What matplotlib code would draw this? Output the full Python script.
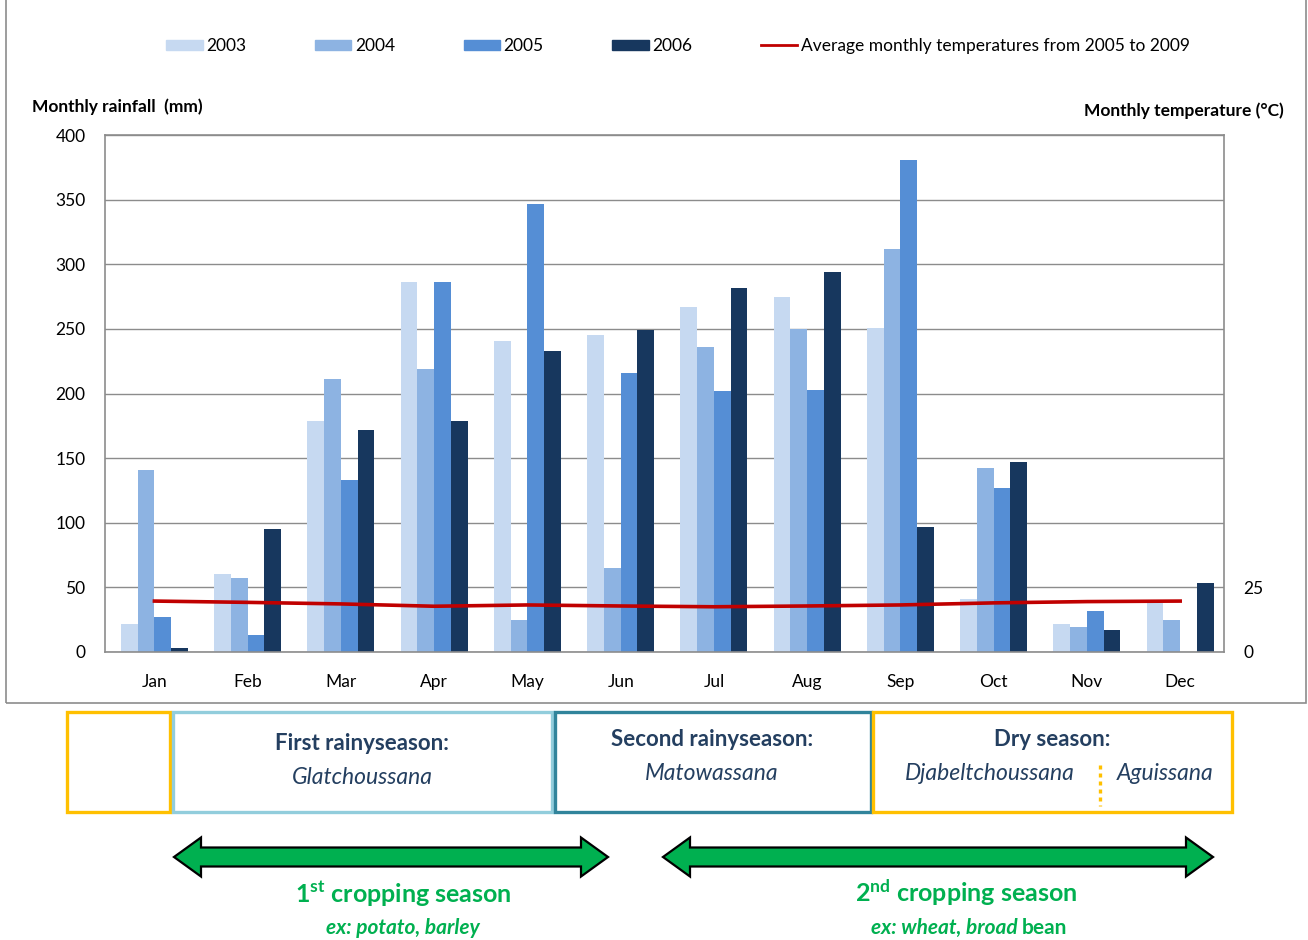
import matplotlib
matplotlib.use("Agg")
import matplotlib.pyplot as plt
import numpy as np
from matplotlib.patches import Rectangle, Polygon
from matplotlib.lines import Line2D

plt.rcParams['font.family'] = ['Lato', 'DejaVu Sans']
plt.rcParams['mathtext.fontset'] = 'custom'
plt.rcParams['mathtext.rm'] = 'Lato'
plt.rcParams['mathtext.bf'] = 'Lato:bold'
plt.rcParams['mathtext.it'] = 'Lato:italic'

months = ["Jan", "Feb", "Mar", "Apr", "May", "Jun", "Jul", "Aug", "Sep", "Oct", "Nov", "Dec"]
years = ["2003", "2004", "2005", "2006"]
rain_2003 = [22, 60, 179, 286, 241, 245, 267, 275, 251, 41, 22, 40]
rain_2004 = [141, 57, 211, 219, 25, 65, 236, 250, 312, 142, 19, 25]
rain_2005 = [27, 13, 133, 286, 347, 216, 202, 203, 381, 127, 32, 0]
rain_2006 = [3, 95, 172, 179, 233, 249, 282, 294, 97, 147, 17, 53]
temp_avg = [19.7, 19.2, 18.6, 17.7, 18.2, 17.8, 17.5, 17.8, 18.2, 19.0, 19.5, 19.7]
bar_colors = ["#C6D9F1", "#8DB3E2", "#558ED5", "#17375E"]

W, H = 1308, 940


def px(x, y):
    return (x / W, 1 - y / H)


fig = plt.figure(figsize=(W / 100, H / 100), dpi=100)

# chart frame
fig.add_artist(Rectangle(px(6, 703), 1300 / W, 710 / H, transform=fig.transFigure,
                         fill=False, edgecolor="#8C8C8C", lw=1.2))

ax = fig.add_axes([105 / W, 1 - 652 / H, 1119 / W, 517 / H])
x = np.arange(len(months))
bw = 0.18
series = [rain_2003, rain_2004, rain_2005, rain_2006]
for i, (vals, c, lab) in enumerate(zip(series, bar_colors, years)):
    ax.bar(x + (i - 1.5) * bw, vals, bw, color=c, label=lab, zorder=2)

ax.set_xlim(-0.53, 11.47)
ax.set_ylim(0, 400)
ax.set_yticks(range(0, 401, 50))
ax.set_xticks(x)
ax.set_xticklabels(months)
ax.grid(axis="y", color="#8C8C8C", lw=1, zorder=0)
ax.set_axisbelow(True)
for s in ax.spines.values():
    s.set_color("#8C8C8C")
    s.set_linewidth(1.2)
ax.tick_params(length=0, labelsize=12.5, colors="black")
ax.tick_params(axis="x", pad=16)
ax.tick_params(axis="y", pad=14)

ax2 = ax.twinx()
ax2.plot(x, temp_avg, color="#C00000", lw=2.6, zorder=3)
ax2.set_ylim(0, 200)
ax2.set_yticks([0, 25])
ax2.tick_params(length=0, labelsize=12.5, pad=14)
for s in ax2.spines.values():
    s.set_visible(False)

fig.text(*px(32, 107), "Monthly rainfall  (mm)", fontsize=12.5, fontweight="bold", va="center")
fig.text(*px(1284, 111), "Monthly temperature (°C)", fontsize=12.5, fontweight="bold",
         va="center", ha="right")

handles = [Rectangle((0, 0), 1, 1, color=c) for c in bar_colors]
handles.append(Line2D([0], [0], color="#C00000", lw=2))
labels = years + ["Average monthly temperatures from 2005 to 2009"]
fig.legend(handles, labels, loc="center", bbox_to_anchor=px(678, 46), ncol=5, frameon=False,
           fontsize=12.5, handlelength=2.1, handleheight=0.55, handletextpad=0.2,
           columnspacing=3.95)

# season boxes below the chart
navy = "#243F60"
gold = "#FFC000"
boxes = [(67, 170, gold), (173, 552, "#92CDDC"), (555, 871, "#31849B"), (873, 1232, gold)]
for x0, x1, c in boxes:
    fig.add_artist(Rectangle(px(x0, 812), (x1 - x0) / W, 100 / H, transform=fig.transFigure,
                             fill=False, edgecolor=c, lw=2.4))
fig.add_artist(Line2D([1100 / W, 1100 / W], [1 - 765 / H, 1 - 806 / H], color=gold,
                      lw=2.4, ls=(0, (1.2, 1.2)), transform=fig.transFigure))

fig.text(*px(362, 744), "First rainyseason:", fontsize=16, fontweight="bold", color=navy,
         ha="center", va="center")
fig.text(*px(362, 778), "Glatchoussana", fontsize=16.5, style="italic", color=navy,
         ha="center", va="center")
fig.text(*px(712, 740), "Second rainyseason:", fontsize=16, fontweight="bold", color=navy,
         ha="center", va="center")
fig.text(*px(712, 773), "Matowassana", fontsize=16.5, style="italic", color=navy,
         ha="center", va="center")
fig.text(*px(1052, 740), "Dry season:", fontsize=16, fontweight="bold", color=navy,
         ha="center", va="center")
fig.text(*px(990, 773), "Djabeltchoussana", fontsize=16.5, style="italic", color=navy,
         ha="center", va="center")
fig.text(*px(1165, 773), "Aguissana", fontsize=16.5, style="italic", color=navy,
         ha="center", va="center")

green = "#00B050"


def double_arrow(x0, x1, yc, head=27, half_shaft=9.5, half_head=19.5):
    pts = [(x0, yc), (x0 + head, yc - half_head), (x0 + head, yc - half_shaft),
           (x1 - head, yc - half_shaft), (x1 - head, yc - half_head), (x1, yc),
           (x1 - head, yc + half_head), (x1 - head, yc + half_shaft),
           (x0 + head, yc + half_shaft), (x0 + head, yc + half_head)]
    fig.add_artist(Polygon([px(a, b) for a, b in pts], closed=True, transform=fig.transFigure,
                           facecolor=green, edgecolor="black", lw=1.6))


double_arrow(174, 608, 857)
double_arrow(663, 1213, 857)

fig.text(*px(403, 893), r"$\mathbf{1^{st}}$ cropping season", fontsize=18, fontweight="bold",
         color=green, ha="center", va="center")
fig.text(*px(403, 928), "ex: potato, barley", fontsize=15, fontweight="bold", style="italic",
         color=green, ha="center", va="center")
fig.text(*px(966, 893), r"$\mathbf{2^{nd}}$ cropping season", fontsize=18, fontweight="bold",
         color=green, ha="center", va="center")
fig.text(*px(1018, 928), "ex: wheat, broad", fontsize=15, fontweight="bold",
         style="italic", color=green, ha="right", va="center")
fig.text(*px(1022, 928), "bean", fontsize=15, fontweight="bold", color=green,
         ha="left", va="center")

fig.savefig("out.png", dpi=100)
